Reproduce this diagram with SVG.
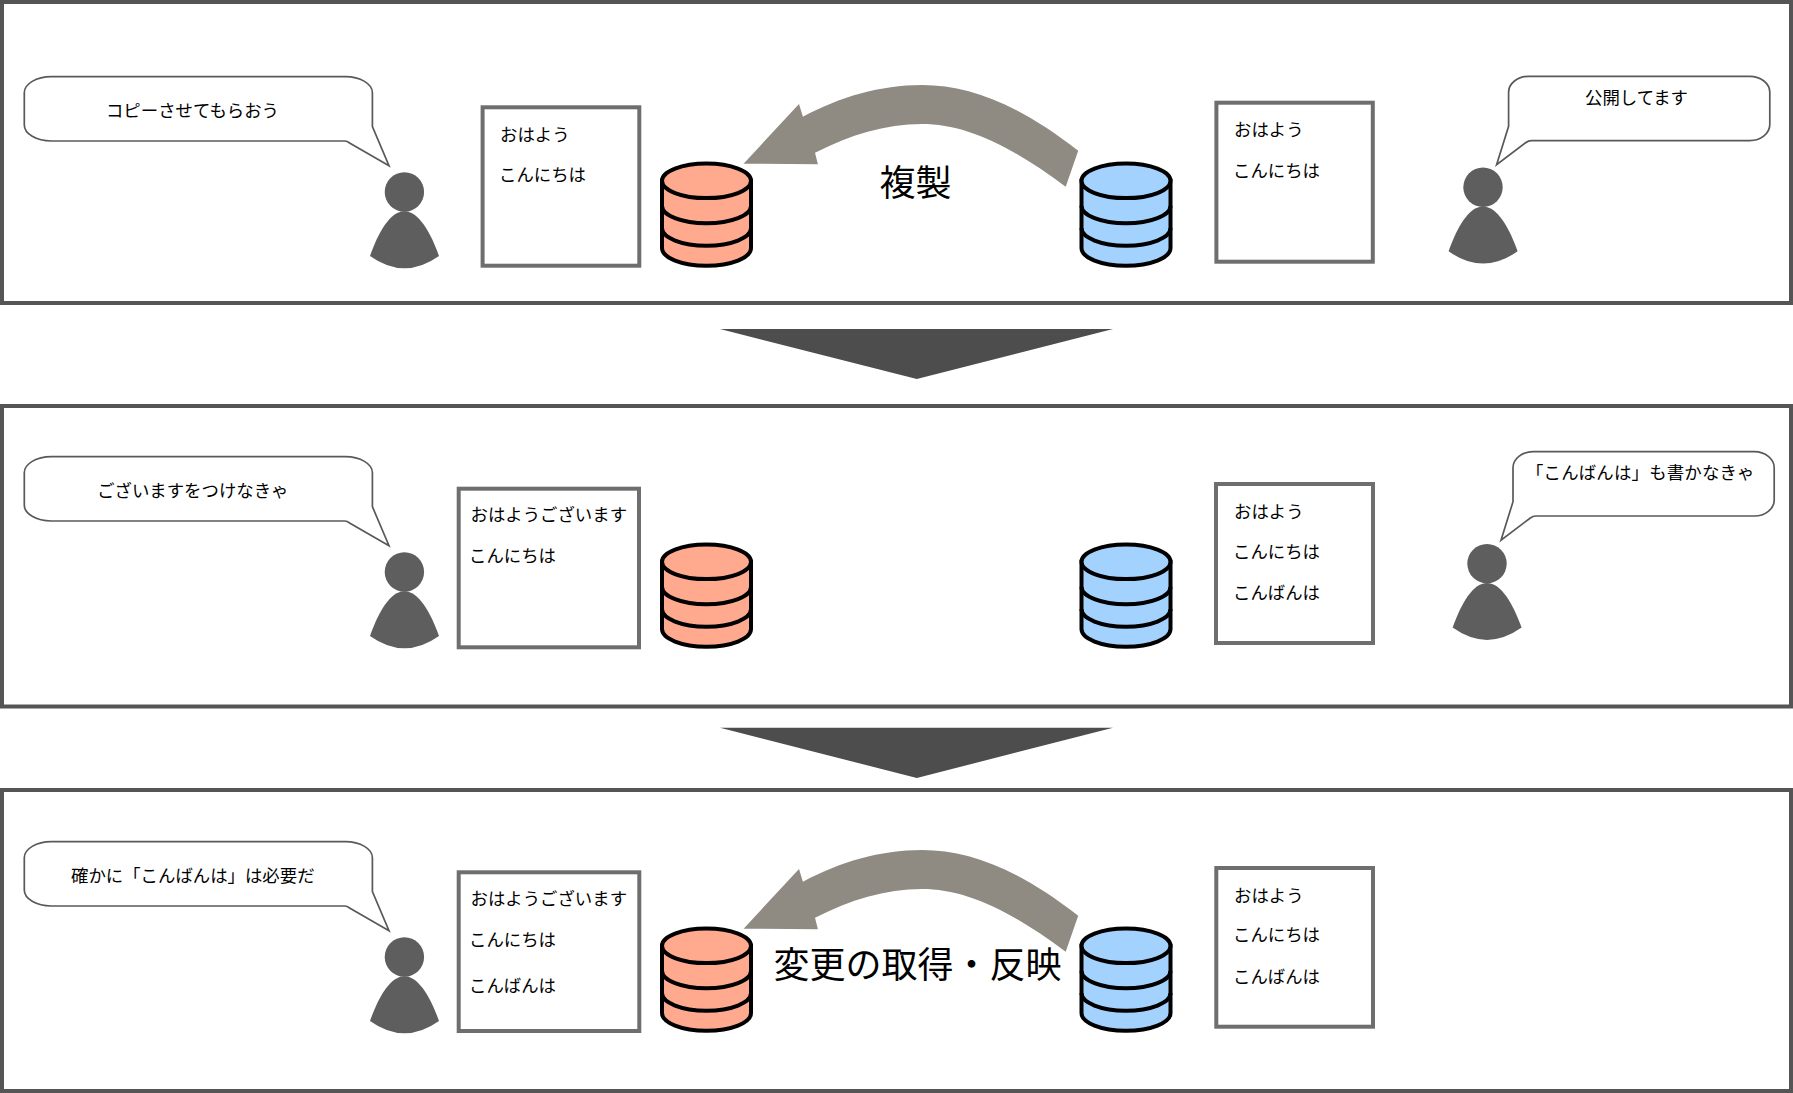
<svg xmlns="http://www.w3.org/2000/svg" xmlns:xlink="http://www.w3.org/1999/xlink" width="1793" height="1093" viewBox="0 0 1793 1093">
<style>
text{font-family:"Noto Sans CJK JP","Noto Sans CJK SC",sans-serif;fill:#000}
.t{font-size:17.4px}
.m{text-anchor:middle}
.big{font-size:36px;text-anchor:middle}
.panel{fill:#fff;stroke:#555;stroke-width:4}
.doc{fill:#fff;stroke:#6e6e6e;stroke-width:4}
.bub{fill:#fff;stroke:#595959;stroke-width:1.7}
.p{fill:#5e5e5e}
.cyl{stroke:#000;stroke-width:4}
.band{fill:none;stroke:#000;stroke-width:4}
.arr{fill:#8f8a82}
.down{fill:#4d4d4d}
</style>
<defs>
<g id="person"><circle class="p" cx="0" cy="0" r="19.7"/><path class="p" d="M0,19.3C-14,19.3-26,40-34.4,64Q0,88.6 34.6,64C26,40 14,19.3 0,19.3Z"/></g>
<g id="cylbody">
<path d="M-44.5,19.1V86.4A44.5,17.6 0 0 0 44.5,86.4V19.1Z" class="cyl" fill="inherit"/>
<ellipse cx="0" cy="19.1" rx="44.5" ry="17.3" class="cyl" fill="inherit"/>
<path class="band" d="M-44.5,44A44.5,17.6 0 0 0 44.5,44M-44.5,66.4A44.5,17.6 0 0 0 44.5,66.4"/>
</g>
<path id="bubL" class="bub" d="M51.3,0H345.4A27,16 0 0 1 372.4,16V50L389,89L350,66.5Q347,64.3 344.8,64.3H51.3A27,16 0 0 1 24.3,48.3V16A27,16 0 0 1 51.3,0Z"/>
<path id="bubR" class="bub" d="M20,0H241.2A20,16 0 0 1 261.2,16V48.3A20,16 0 0 1 241.2,64.3H22.7Q20,64.3 17,66.5L-12,88.5L0,50V16A20,16 0 0 1 20,0Z"/>
<path id="curve" class="arr" d="M743.6,163.7L799,104L802.9,116.7C840,97 880,85 922,85C970,85 1020,105 1078.2,150.7L1065.7,186.7C1010,145 965,124 922,124C885,124 850,135 815,152.7L817.9,164.3Z"/>
</defs>
<rect width="1793" height="1093" fill="#fff"/>

<g id="panel1">
<rect class="panel" x="2" y="2" width="1789" height="301"/>
</g>
<g id="panel2">
<rect class="panel" x="2" y="406" width="1789" height="300.5"/>
</g>
<g id="panel3">
<rect class="panel" x="2" y="790" width="1789" height="301"/>
</g>

<g id="connectors">
<use href="#curve"/>
<use href="#curve" y="765"/>
<polygon class="down" points="720,329 1113,329 916.8,379"/>
<polygon class="down" points="720,727.7 1113,727.7 916.8,778"/>
</g>

<g id="p1-left-bubble"><use href="#bubL" y="76.7"/><text class="t m" x="192.5" y="117.3">コピーさせてもらおう</text></g>
<g id="p1-left-person"><use href="#person" x="404.4" y="192"/></g>
<g id="p1-left-doc"><rect class="doc" x="482.6" y="107.3" width="156.7" height="158.4"/><text class="t" x="500" y="140.9">おはよう</text><text class="t" x="499" y="181">こんにちは</text></g>
<g id="p1-left-db" fill="#ffa98f"><use href="#cylbody" x="706.5" y="161.7"/></g>
<g id="p1-label"><text class="big" x="915.5" y="196">複製</text></g>
<g id="p1-right-db" fill="#a3d2ff"><use href="#cylbody" x="1126" y="161.7"/></g>
<g id="p1-right-doc"><rect class="doc" x="1216.4" y="102.7" width="156.4" height="159"/><text class="t" x="1234" y="136.2">おはよう</text><text class="t" x="1233" y="176.5">こんにちは</text></g>
<g id="p1-right-person"><use href="#person" x="1483" y="187.3"/></g>
<g id="p1-right-bubble"><use href="#bubR" x="1508.6" y="76.3"/><text class="t m" x="1636.5" y="103.8">公開してます</text></g>

<g id="p2-left-bubble"><use href="#bubL" y="456.7"/><text class="t m" x="192.8" y="497.3">ございますをつけなきゃ</text></g>
<g id="p2-left-person"><use href="#person" x="404.4" y="572"/></g>
<g id="p2-left-doc"><rect class="doc" x="458.7" y="488.7" width="180.3" height="158.6"/><text class="t" x="470.5" y="520.5">おはようございます</text><text class="t" x="469" y="562">こんにちは</text></g>
<g id="p2-left-db" fill="#ffa98f"><use href="#cylbody" x="706.5" y="542.7"/></g>
<g id="p2-right-db" fill="#a3d2ff"><use href="#cylbody" x="1126" y="542.7"/></g>
<g id="p2-right-doc"><rect class="doc" x="1216" y="484" width="157" height="159"/><text class="t" x="1234" y="517.5">おはよう</text><text class="t" x="1233" y="558.3">こんにちは</text><text class="t" x="1233" y="599">こんばんは</text></g>
<g id="p2-right-person"><use href="#person" x="1487" y="563.6"/></g>
<g id="p2-right-bubble"><use href="#bubR" x="1513" y="451.7"/><text class="t" x="1526" y="478.8" letter-spacing="0.2">「こんばんは」も書かなきゃ</text></g>

<g id="p3-left-bubble"><use href="#bubL" y="841.7"/><text class="t m" x="192.8" y="881.5">確かに「こんばんは」は必要だ</text></g>
<g id="p3-left-person"><use href="#person" x="404.4" y="957"/></g>
<g id="p3-left-doc"><rect class="doc" x="458.7" y="872.3" width="180.6" height="158.7"/><text class="t" x="470.5" y="904.5">おはようございます</text><text class="t" x="469" y="945.5">こんにちは</text><text class="t" x="469" y="992.2">こんばんは</text></g>
<g id="p3-left-db" fill="#ffa98f"><use href="#cylbody" x="706.5" y="926.7"/></g>
<g id="p3-label"><text class="big" x="917.5" y="977.7">変更の取得・反映</text></g>
<g id="p3-right-db" fill="#a3d2ff"><use href="#cylbody" x="1126" y="926.7"/></g>
<g id="p3-right-doc"><rect class="doc" x="1216.3" y="868" width="156.7" height="158.7"/><text class="t" x="1234" y="901.5">おはよう</text><text class="t" x="1233" y="941.3">こんにちは</text><text class="t" x="1233" y="982.5">こんばんは</text></g>
</svg>
